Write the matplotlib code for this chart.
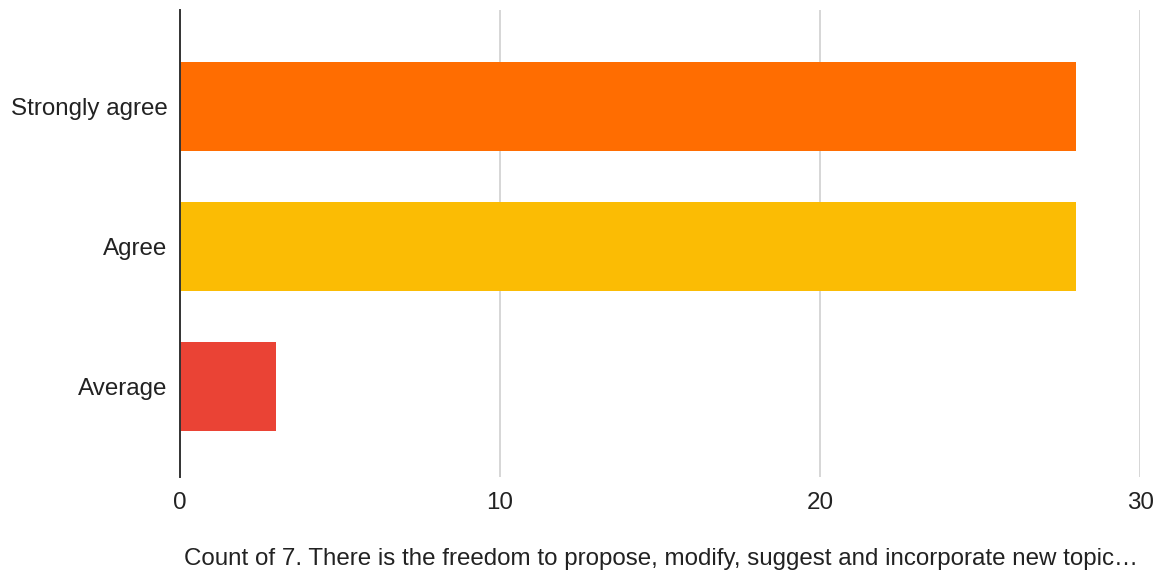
import matplotlib.pyplot as plt

# Survey answers for question 7
categories = ["Strongly agree", "Agree", "Average"]
counts = [28, 28, 3]
bar_colors = ["#FF6D01", "#FBBC04", "#EA4335"]
x_ticks = [0, 10, 20, 30]
caption = "Count of 7. There is the freedom to propose, modify, suggest and incorporate new topic\u2026"

plt.rcParams['font.family'] = ['Liberation Sans', 'DejaVu Sans']

fig = plt.figure(figsize=(11.66, 5.8), dpi=100)
ax = fig.add_axes([0.1544, 0.1776, 0.8233, 0.8052])

pos = list(range(len(categories)))
ax.barh(pos, counts, height=0.636, color=bar_colors, zorder=3)

ax.set_xlim(0, 30)
ax.set_ylim(2.65, -0.69)
ax.set_xticks(x_ticks)
ax.set_yticks(pos)
ax.set_yticklabels(categories)

ax.grid(axis='x', color='#cccccc', linewidth=1.1, zorder=0)
ax.grid(axis='y', visible=False)
for side in ['top', 'right', 'bottom']:
    ax.spines[side].set_visible(False)
ax.spines['left'].set_color('#333333')
ax.spines['left'].set_linewidth(1.4)
ax.spines['left'].set_zorder(4)

ax.tick_params(axis='both', length=0, labelsize=17.4, colors='#222222')
ax.tick_params(axis='y', pad=9)
ax.tick_params(axis='x', pad=11)

fig.text(0.567, 0.036, caption, ha='center', va='center', fontsize=17.4, color='#222222')

fig.savefig("out.png", dpi=100)
plt.close(fig)
